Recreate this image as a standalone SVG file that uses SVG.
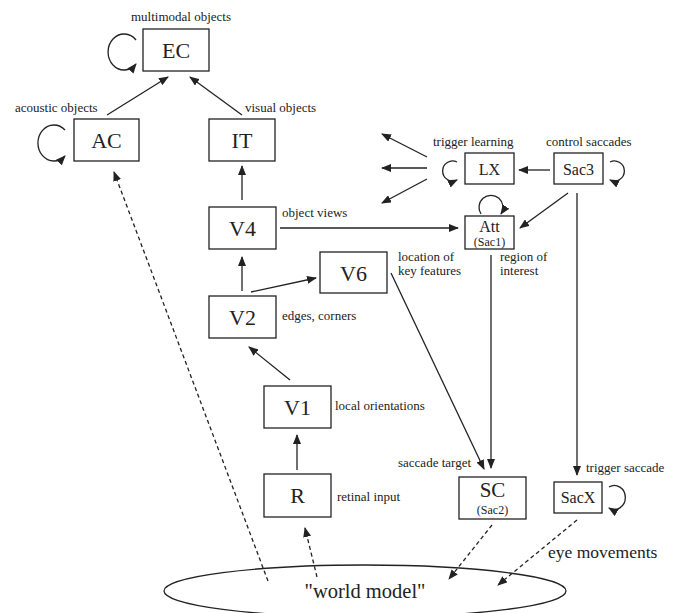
<svg xmlns="http://www.w3.org/2000/svg" width="676" height="613" viewBox="0 0 676 613">
<style>
.box{fill:#fff;stroke:#222;stroke-width:1.3}
.ln{fill:none;stroke:#222;stroke-width:1.3}
.ds{fill:none;stroke:#222;stroke-width:1.3;stroke-dasharray:4,3}
text{font-family:"Liberation Serif","Times New Roman",serif;fill:#222}
.big{font-size:22px;text-anchor:middle}
.mid{font-size:16px;text-anchor:middle}
.sub{font-size:12px;text-anchor:middle}
.lab{font-size:13px}
</style>
<defs>
<marker id="ah" viewBox="0 0 10 8" refX="9" refY="4" markerWidth="10" markerHeight="8" markerUnits="userSpaceOnUse" orient="auto">
<path d="M0,0 L10,4 L0,8 z" fill="#222"/>
</marker>
</defs>
<g id="connectors">
<line class="ln" x1="107" y1="115" x2="168" y2="77" marker-end="url(#ah)"/>
<line class="ln" x1="242" y1="115" x2="190" y2="77" marker-end="url(#ah)"/>
<line class="ln" x1="242" y1="200" x2="242" y2="166" marker-end="url(#ah)"/>
<line class="ln" x1="242" y1="291" x2="242" y2="257" marker-end="url(#ah)"/>
<line class="ln" x1="251" y1="292" x2="316" y2="278" marker-end="url(#ah)"/>
<line class="ln" x1="290" y1="380" x2="249" y2="347" marker-end="url(#ah)"/>
<line class="ln" x1="297" y1="470" x2="297" y2="435" marker-end="url(#ah)"/>
<line class="ln" x1="280" y1="228" x2="458" y2="228" marker-end="url(#ah)"/>
<line class="ln" x1="568" y1="193" x2="520" y2="228" marker-end="url(#ah)"/>
<line class="ln" x1="550" y1="170" x2="519" y2="170" marker-end="url(#ah)"/>
<line class="ln" x1="427" y1="157" x2="382" y2="134" marker-end="url(#ah)"/>
<line class="ln" x1="427" y1="168" x2="382" y2="168" marker-end="url(#ah)"/>
<line class="ln" x1="427" y1="179" x2="382" y2="203" marker-end="url(#ah)"/>
<line class="ln" x1="491" y1="255" x2="491" y2="468" marker-end="url(#ah)"/>
<line class="ln" x1="391" y1="273" x2="484" y2="469" marker-end="url(#ah)"/>
<line class="ln" x1="577" y1="193" x2="577" y2="475" marker-end="url(#ah)"/>
<line class="ds" x1="268" y1="581" x2="114" y2="172" marker-end="url(#ah)"/>
<line class="ds" x1="317" y1="577" x2="305" y2="528" marker-end="url(#ah)"/>
<line class="ds" x1="492" y1="525" x2="449" y2="579" marker-end="url(#ah)"/>
<line class="ds" x1="577" y1="520" x2="498" y2="585" marker-end="url(#ah)"/>
<path class="ln" d="M136,40 A16,18 0 1 0 136,64" marker-end="url(#ah)"/>
<path class="ln" d="M65,130 A16,18 0 1 0 65,156" marker-end="url(#ah)"/>
<path class="ln" d="M457,162 A10,10 0 1 0 457,180" marker-end="url(#ah)"/>
<path class="ln" d="M610,162 A10,10 0 1 1 610,180" marker-end="url(#ah)"/>
<path class="ln" d="M609,487 A11,12 0 1 1 609,508" marker-end="url(#ah)"/>
<path class="ln" d="M481,214 A12,12 0 1 1 501,214" marker-end="url(#ah)"/>
</g>
<g id="EC"><rect class="box" x="143" y="29" width="66" height="42"/><text class="big" x="176" y="58">EC</text></g>
<g id="AC"><rect class="box" x="74" y="119" width="65" height="42"/><text class="big" x="106.5" y="148">AC</text></g>
<g id="IT"><rect class="box" x="209" y="119" width="66" height="42"/><text class="big" x="242" y="148">IT</text></g>
<g id="V4"><rect class="box" x="209" y="207" width="67" height="42"/><text class="big" x="242.5" y="236">V4</text></g>
<g id="V6"><rect class="box" x="320" y="252" width="67" height="41"/><text class="big" x="353.5" y="281">V6</text></g>
<g id="V2"><rect class="box" x="209" y="296" width="67" height="42"/><text class="big" x="242.5" y="325">V2</text></g>
<g id="V1"><rect class="box" x="264" y="386" width="67" height="42"/><text class="big" x="297.5" y="415">V1</text></g>
<g id="R"><rect class="box" x="264" y="474" width="67" height="43"/><text class="big" x="297.5" y="503">R</text></g>
<g id="LX"><rect class="box" x="465" y="153" width="49" height="31"/><text class="mid" x="489.5" y="175">LX</text></g>
<g id="Sac3"><rect class="box" x="554" y="153" width="49" height="31"/><text class="mid" x="578.5" y="175">Sac3</text></g>
<g id="Att"><rect class="box" x="465" y="216" width="49" height="33"/><text class="mid" x="489.5" y="232">Att</text><text class="sub" x="489.5" y="246">(Sac1)</text></g>
<g id="SC"><rect class="box" x="459" y="477" width="67" height="42"/><text x="492.5" y="497" style="font-size:21px;text-anchor:middle">SC</text><text class="sub" x="492.5" y="514">(Sac2)</text></g>
<g id="SacX"><rect class="box" x="554" y="482" width="48" height="31"/><text class="mid" x="578" y="503">SacX</text></g>
<g id="world"><ellipse class="ln" cx="365" cy="591" rx="201" ry="26"/><text x="365" y="598" style="font-size:20.5px;text-anchor:middle">"world model"</text></g>
<g id="labels">
<text class="lab" x="181" y="21" text-anchor="middle">multimodal objects</text>
<text class="lab" x="15" y="112">acoustic objects</text>
<text class="lab" x="245" y="112">visual objects</text>
<text class="lab" x="433" y="146">trigger learning</text>
<text class="lab" x="546" y="146">control saccades</text>
<text class="lab" x="282" y="217">object views</text>
<text class="lab" x="398" y="261">location of</text>
<text class="lab" x="398" y="275">key features</text>
<text class="lab" x="500" y="261">region of</text>
<text class="lab" x="500" y="275">interest</text>
<text class="lab" x="282" y="320">edges, corners</text>
<text class="lab" x="335" y="410">local orientations</text>
<text class="lab" x="337" y="501">retinal input</text>
<text class="lab" x="398" y="467">saccade target</text>
<text class="lab" x="586" y="472">trigger saccade</text>
<text x="548" y="558" style="font-size:17.5px">eye movements</text>
</g>
</svg>
